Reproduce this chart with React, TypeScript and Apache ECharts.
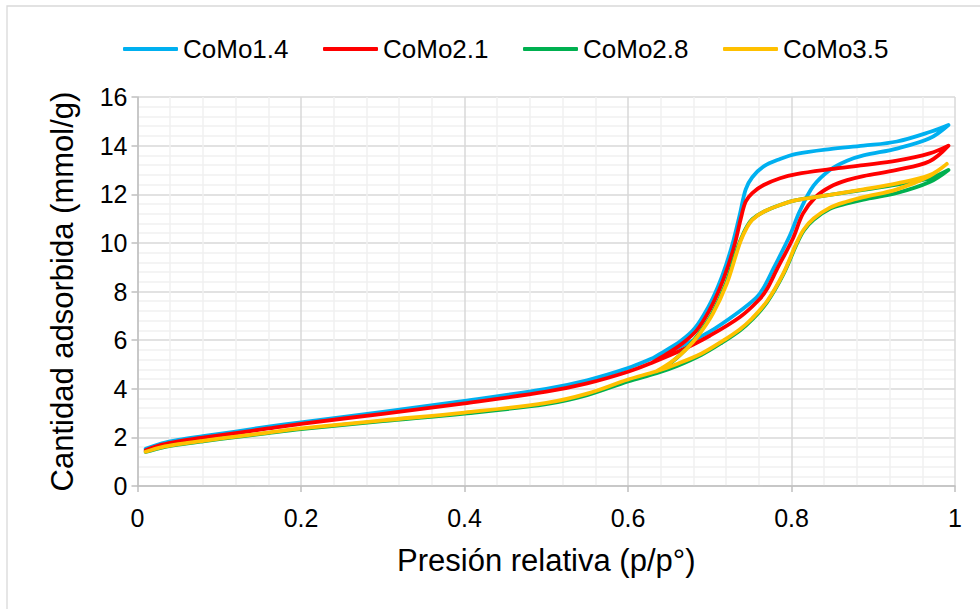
import React, { useEffect, useRef } from "react";
import * as echarts from "echarts";

// ---- Data ----
const seriesNames = ["CoMo1.4", "CoMo2.1", "CoMo2.8", "CoMo3.5"];
const seriesColors = ["#00B0F0", "#FF0000", "#00B050", "#FFC000"];

// CoMo1.4
const como14AdsX = [0.01, 0.03, 0.05, 0.08, 0.12, 0.16, 0.2, 0.3, 0.4, 0.5, 0.55, 0.6, 0.63, 0.665, 0.7, 0.735, 0.757, 0.765, 0.778, 0.798, 0.81, 0.827, 0.847, 0.868, 0.888, 0.929, 0.969, 0.992];
const como14AdsY = [1.53, 1.76, 1.9, 2.05, 2.24, 2.44, 2.62, 3.05, 3.5, 4.0, 4.35, 4.85, 5.25, 5.75, 6.35, 7.15, 7.75, 8.1, 8.95, 10.3, 11.3, 12.35, 13.0, 13.38, 13.6, 13.88, 14.3, 14.85];
const como14DesX = [0.992, 0.97, 0.929, 0.888, 0.847, 0.806, 0.786, 0.766, 0.752, 0.744, 0.737, 0.729, 0.72, 0.71, 0.698, 0.682, 0.664, 0.645, 0.63];
const como14DesY = [14.85, 14.57, 14.17, 14.0, 13.86, 13.66, 13.45, 13.15, 12.7, 12.2, 11.2, 10.1, 9.1, 8.2, 7.35, 6.5, 5.95, 5.55, 5.25];

// CoMo2.1
const como21AdsX = [0.01, 0.03, 0.05, 0.08, 0.12, 0.16, 0.2, 0.3, 0.4, 0.5, 0.55, 0.6, 0.63, 0.665, 0.7, 0.737, 0.76, 0.77, 0.782, 0.802, 0.814, 0.83, 0.847, 0.868, 0.888, 0.929, 0.969, 0.992];
const como21AdsY = [1.47, 1.7, 1.84, 1.99, 2.17, 2.37, 2.56, 2.97, 3.4, 3.88, 4.22, 4.7, 5.08, 5.58, 6.18, 6.95, 7.65, 8.1, 8.9, 10.2, 11.2, 11.9, 12.3, 12.58, 12.75, 13.0, 13.36, 14.0];
const como21DesX = [0.992, 0.969, 0.929, 0.888, 0.847, 0.806, 0.786, 0.766, 0.752, 0.744, 0.738, 0.731, 0.722, 0.712, 0.7, 0.684, 0.666, 0.647, 0.63];
const como21DesY = [14.0, 13.68, 13.38, 13.2, 13.03, 12.83, 12.66, 12.38, 12.05, 11.7, 11.0, 10.0, 9.0, 8.1, 7.25, 6.4, 5.85, 5.42, 5.08];

// CoMo2.8
const como28AdsX = [0.01, 0.03, 0.05, 0.08, 0.12, 0.16, 0.2, 0.3, 0.4, 0.5, 0.55, 0.6, 0.635, 0.66, 0.69, 0.715, 0.737, 0.752, 0.77, 0.79, 0.806, 0.815, 0.827, 0.847, 0.868, 0.888, 0.929, 0.969, 0.992];
const como28AdsY = [1.4, 1.58, 1.7, 1.84, 2.01, 2.18, 2.34, 2.67, 2.98, 3.37, 3.74, 4.3, 4.64, 4.94, 5.4, 5.9, 6.4, 6.85, 7.55, 8.7, 9.92, 10.5, 10.95, 11.4, 11.62, 11.78, 12.05, 12.5, 13.0];
const como28DesX = [0.992, 0.969, 0.929, 0.888, 0.847, 0.806, 0.786, 0.766, 0.752, 0.745, 0.738, 0.732, 0.72, 0.703, 0.687, 0.67, 0.652, 0.635];
const como28DesY = [13.0, 12.66, 12.4, 12.18, 11.97, 11.76, 11.56, 11.28, 10.97, 10.65, 10.15, 9.6, 8.34, 7.1, 6.28, 5.6, 5.05, 4.64];

// CoMo3.5
const como35AdsX = [0.01, 0.03, 0.05, 0.08, 0.12, 0.16, 0.2, 0.3, 0.4, 0.5, 0.55, 0.6, 0.635, 0.66, 0.69, 0.715, 0.737, 0.752, 0.77, 0.79, 0.806, 0.815, 0.827, 0.847, 0.868, 0.888, 0.929, 0.969, 0.99];
const como35AdsY = [1.41, 1.6, 1.72, 1.86, 2.03, 2.2, 2.37, 2.7, 3.02, 3.42, 3.8, 4.38, 4.72, 5.02, 5.45, 5.95, 6.45, 6.9, 7.6, 8.75, 9.98, 10.55, 11.0, 11.45, 11.7, 11.88, 12.2, 12.75, 13.25];
const como35DesX = [0.99, 0.969, 0.929, 0.888, 0.847, 0.806, 0.786, 0.766, 0.752, 0.745, 0.738, 0.733, 0.721, 0.704, 0.688, 0.672, 0.655, 0.635];
const como35DesY = [13.25, 12.79, 12.45, 12.2, 11.97, 11.76, 11.56, 11.28, 10.95, 10.6, 10.1, 9.6, 8.34, 7.1, 6.28, 5.65, 5.15, 4.72];

const xTickInterval = 0.2;
const yTickInterval = 2;

function loop(ax: number[], ay: number[], dx: number[], dy: number[]) {
  const pts: number[][] = [];
  ax.forEach((x, i) => pts.push([x, ay[i]]));
  dx.forEach((x, i) => {
    if (i === 0) return;
    pts.push([x, dy[i]]);
  });
  return pts;
}

const loops = [
  loop(como14AdsX, como14AdsY, como14DesX, como14DesY),
  loop(como21AdsX, como21AdsY, como21DesX, como21DesY),
  loop(como28AdsX, como28AdsY, como28DesX, como28DesY),
  loop(como35AdsX, como35AdsY, como35DesX, como35DesY),
];

const FONT = "'Liberation Sans', Arial, sans-serif";

export default function App() {
  const ref = useRef<HTMLDivElement>(null);
  useEffect(() => {
    if (!ref.current) return;
    const chart = echarts.init(ref.current, undefined, { renderer: "svg" });
    chart.setOption({
      animation: false,
      backgroundColor: "#ffffff",
      textStyle: { fontFamily: FONT },
      graphic: [
        {
          type: "rect",
          shape: { x: 7, y: 6, width: 1200, height: 900 },
          style: { fill: "none", stroke: "#d9d9d9", lineWidth: 1.3 },
          silent: true,
          z: -10,
        },
      ],
      legend: {
        top: 31,
        left: 118,
        itemWidth: 55,
        itemHeight: 4,
        itemGap: 34.5,
        icon: "roundRect",
        textStyle: { fontFamily: FONT, fontSize: 26, color: "#000" },
        data: seriesNames,
      },
      grid: { left: 137.5, right: 25, top: 97, bottom: 123 },
      xAxis: {
        type: "value",
        min: 0,
        max: 1,
        interval: xTickInterval,
        name: "Presión relativa (p/p°)",
        nameLocation: "middle",
        nameGap: 59,
        nameTextStyle: { fontFamily: FONT, fontSize: 31, color: "#000" },
        axisLine: { show: true, lineStyle: { color: "#bfbfbf", width: 1.5 } },
        axisTick: { show: true, length: 6, lineStyle: { color: "#bfbfbf", width: 1.5 } },
        axisLabel: { fontFamily: FONT, fontSize: 25, color: "#000", margin: 19 },
        splitLine: { show: true, lineStyle: { color: "#d9d9d9", width: 1.5 } },
        minorTick: { show: false, splitNumber: 5 },
        minorSplitLine: { show: true, lineStyle: { color: "#f0f0f0", width: 1.5 } },
      },
      yAxis: {
        type: "value",
        min: 0,
        max: 16,
        interval: yTickInterval,
        name: "Cantidad adsorbida (mmol/g)",
        nameLocation: "middle",
        nameGap: 60,
        nameTextStyle: { fontFamily: FONT, fontSize: 31, color: "#000" },
        axisLine: { show: true, lineStyle: { color: "#bfbfbf", width: 1.5 } },
        axisTick: { show: true, length: 6, lineStyle: { color: "#bfbfbf", width: 1.5 } },
        axisLabel: { fontFamily: FONT, fontSize: 25, color: "#000", margin: 10 },
        splitLine: { show: true, lineStyle: { color: "#d9d9d9", width: 1.5 } },
        minorTick: { show: false, splitNumber: 5 },
        minorSplitLine: { show: true, lineStyle: { color: "#f0f0f0", width: 1.5 } },
      },
      series: loops.map((data, i) => ({
        name: seriesNames[i],
        type: "line",
        data,
        smooth: 0.35,
        showSymbol: false,
        symbol: "none",
        lineStyle: { color: seriesColors[i], width: 3.8, cap: "round", join: "round" },
        itemStyle: { color: seriesColors[i] },
      })),
    });
    return () => chart.dispose();
  }, []);
  return (
    <div
      ref={ref}
      style={{ position: "fixed", left: 0, top: 0, width: 980, height: 609 }}
    />
  );
}
